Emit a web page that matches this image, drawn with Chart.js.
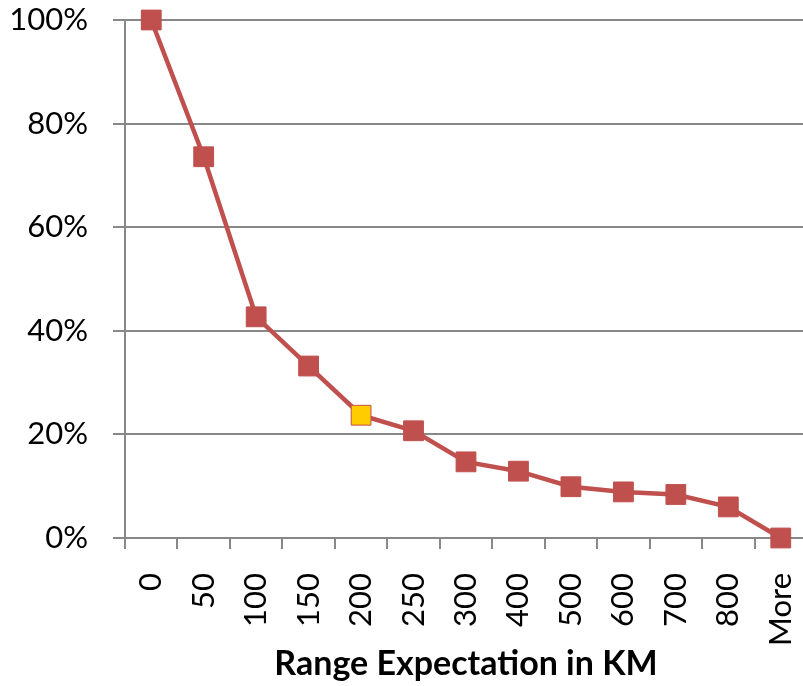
<!DOCTYPE html>
<html>
<head>
<meta charset="utf-8">
<script src="https://cdn.jsdelivr.net/npm/chart.js@4"></script>
<style>
  html, body { margin: 0; padding: 0; background: #fff; overflow: hidden; }
  #wrap { width: 807px; height: 686px; }
</style>
</head>
<body>
<div id="wrap"><canvas id="c" width="807" height="686"></canvas></div>
<script>
const categories = ['0', '50', '100', '150', '200', '250', '300', '400', '500', '600', '700', '800', 'More'];
const cumulativePercent = [100, 73.6, 42.7, 33.2, 23.7, 20.7, 14.7, 12.9, 9.9, 8.9, 8.4, 6.0, 0];
const yTicks = [0, 20, 40, 60, 80, 100];
const highlightLabel = '200';
const xTitle = 'Range Expectation in KM';

const RED = '#C0504D';
const YELLOW = '#FFCC00';
const FONT = 'Lato, "Open Sans", sans-serif';

const ctx = document.getElementById('c');
new Chart(ctx, {
  type: 'line',
  data: {
    labels: categories,
    datasets: [{
      data: cumulativePercent,
      borderColor: RED,
      borderWidth: 4.5,
      tension: 0,
      clip: false,
      pointStyle: 'rect',
      pointRadius: 14,
      pointHoverRadius: 14,
      pointBorderWidth: 1,
      pointBackgroundColor: categories.map(c => c === highlightLabel ? YELLOW : RED),
      pointBorderColor: RED
    }]
  },
  options: {
    responsive: false,
    animation: false,
    devicePixelRatio: 1,
    layout: { autoPadding: false, padding: { top: 20, left: 0, right: 0, bottom: 0 } },
    plugins: { legend: { display: false }, tooltip: { enabled: false } },
    scales: {
      x: {
        type: 'category',
        offset: true,
        grid: {
          offset: true,
          drawOnChartArea: false,
          drawTicks: true,
          tickLength: 11,
          color: '#888888',
          lineWidth: 2
        },
        border: { color: '#888888', width: 2 },
        ticks: {
          color: '#000',
          font: { family: FONT, size: 31 },
          minRotation: 90,
          maxRotation: 90,
          padding: 24,
          autoSkip: false
        },
        title: {
          display: true,
          text: xTitle,
          color: '#000',
          font: { family: FONT, size: 34, weight: 'bold' },
          padding: { top: 0, bottom: 2 }
        },
        afterFit: s => { s.height = 148; s.paddingLeft = 0; s.paddingRight = 0; }
      },
      y: {
        min: 0,
        max: 100,
        afterBuildTicks: s => { s.ticks = yTicks.map(v => ({ value: v })); },
        grid: {
          color: '#888888',
          lineWidth: 2,
          drawTicks: true,
          tickLength: 12
        },
        border: { color: '#888888', width: 2 },
        ticks: {
          color: '#000',
          font: { family: FONT, size: 31 },
          padding: 25,
          callback: v => v + '%'
        },
        afterFit: s => { s.width = 125; s.paddingTop = 0; s.paddingBottom = 0; }
      }
    }
  }
});
</script>
</body>
</html>
